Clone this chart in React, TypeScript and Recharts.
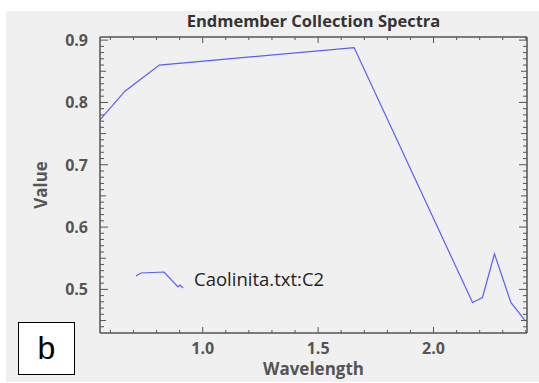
import React from "react";
import { LineChart, Line, XAxis, YAxis } from "recharts";

// Caolinita spectrum (wavelength in µm, reflectance value)
const wavelength = [0.555, 0.663, 0.812, 1.656, 2.169, 2.212, 2.264, 2.335, 2.397];
const reflectance = [0.772, 0.818, 0.86, 0.888, 0.479, 0.487, 0.557, 0.479, 0.45];

const seriesName = "Caolinita.txt:C2";
const xMajor = [1.0, 1.5, 2.0];
const yMajor = [0.5, 0.6, 0.7, 0.8, 0.9];

// little spectrum glyph used as the legend icon
const legendIcon = [[0, 4], [5, 1], [28, 0], [42, 15], [44, 13], [47, 16]];

const range = (from: number, to: number, step: number) => {
  const out: number[] = [];
  for (let v = from; v <= to + 1e-9; v += step) out.push(Math.round(v * 100) / 100);
  return out;
};
const xTicks = range(0.6, 2.4, 0.1);
const yTicks = range(0.44, 0.9, 0.01);

const data = wavelength.map((w, i) => ({ w, v: reflectance[i] }));

const AXIS = "#555";
const LINE = "#5b5bff";
const FONT = "'Open Sans', 'DejaVu Sans', sans-serif";

const isMajor = (list: number[], v: number) => list.some((m) => Math.abs(m - v) < 1e-6);

const XTick = ({ x, y, payload, top }: any) => {
  const v = payload.value;
  const major = isMajor(xMajor, v);
  const len = major ? 6 : 3;
  const dir = top ? 1 : -1;
  return (
    <g>
      <line x1={x} x2={x} y1={y} y2={y + dir * len} stroke={AXIS} strokeWidth={1} />
      {!top && major && (
        <text x={x} y={y + 21} textAnchor="middle" fontFamily={FONT} fontWeight="bold" fontSize={16} fill={AXIS}>
          {v.toFixed(1)}
        </text>
      )}
    </g>
  );
};

const YTick = ({ x, y, payload, right }: any) => {
  const v = payload.value;
  const r = Math.round(v * 100);
  const major = isMajor(yMajor, v);
  const len = major ? 8 : r % 5 === 0 ? 6 : 4;
  const dir = right ? -1 : 1;
  return (
    <g>
      <line x1={x} x2={x + dir * len} y1={y} y2={y} stroke={AXIS} strokeWidth={1} />
      {!right && major && (
        <text x={x - 12} y={y + 6} textAnchor="end" fontFamily={FONT} fontWeight="bold" fontSize={16} fill={AXIS}>
          {v.toFixed(1)}
        </text>
      )}
    </g>
  );
};

export default function App() {
  return (
    <div style={{ position: "absolute", left: 0, top: 0, width: 539, height: 383, background: "#fff" }}>
      <div style={{ position: "absolute", left: 6, top: 11, width: 533, height: 371, background: "#f0f0f0" }} />
      <div style={{ position: "absolute", left: 0, top: 0 }}>
        <LineChart width={539} height={383} data={data} margin={{ top: 0, right: 0, bottom: 0, left: 0 }}>
          <XAxis
            xAxisId="b"
            type="number"
            dataKey="w"
            domain={[0.555, 2.405]}
            allowDataOverflow
            ticks={xTicks}
            interval={0}
            height={50}
            tickSize={0}
            tickMargin={0}
            tickLine={false}
            axisLine={{ stroke: AXIS, strokeWidth: 1.5 }}
            tick={<XTick />}
          />
          <XAxis
            xAxisId="t"
            orientation="top"
            type="number"
            dataKey="w"
            domain={[0.555, 2.405]}
            allowDataOverflow
            ticks={xTicks}
            interval={0}
            height={37}
            tickSize={0}
            tickMargin={0}
            tickLine={false}
            axisLine={{ stroke: AXIS, strokeWidth: 1.5 }}
            tick={<XTick top />}
          />
          <YAxis
            yAxisId="l"
            type="number"
            domain={[0.43, 0.905]}
            allowDataOverflow
            ticks={yTicks}
            interval={0}
            width={100}
            tickSize={0}
            tickMargin={0}
            tickLine={false}
            axisLine={{ stroke: AXIS, strokeWidth: 1.5 }}
            tick={<YTick />}
          />
          <YAxis
            yAxisId="r"
            orientation="right"
            type="number"
            domain={[0.43, 0.905]}
            allowDataOverflow
            ticks={yTicks}
            interval={0}
            width={12}
            tickSize={0}
            tickMargin={0}
            tickLine={false}
            axisLine={{ stroke: AXIS, strokeWidth: 1.5 }}
            tick={<YTick right />}
          />
          <Line
            xAxisId="b"
            yAxisId="l"
            type="linear"
            dataKey="v"
            name={seriesName}
            stroke={LINE}
            strokeWidth={1.2}
            dot={false}
            activeDot={false}
            isAnimationActive={false}
          />
        </LineChart>
      </div>
      <svg style={{ position: "absolute", left: 135, top: 265 }} width={210} height={30}>
        <polyline
          points={legendIcon.map(([a, b]) => `${a + 1},${b + 7}`).join(" ")}
          fill="none"
          stroke={LINE}
          strokeWidth={1.2}
        />
        <text x={59} y={21} fontFamily={FONT} fontSize={18.5} fill="#222">
          {seriesName}
        </text>
      </svg>
      <div style={{ position: "absolute", left: 100, width: 427, top: 11, lineHeight: "20px", textAlign: "center", fontFamily: FONT, fontWeight: "bold", fontSize: 16.5, color: "#333" }}>
        Endmember Collection Spectra
      </div>
      <div style={{ position: "absolute", left: 100, width: 427, top: 362, lineHeight: "14px", textAlign: "center", fontFamily: FONT, fontWeight: "bold", fontSize: 17, color: AXIS }}>
        Wavelength
      </div>
      <div style={{ position: "absolute", left: 41, top: 185, lineHeight: "20px", transform: "translate(-50%, -50%) rotate(-90deg)", fontFamily: FONT, fontWeight: "bold", fontSize: 17, color: AXIS, whiteSpace: "nowrap" }}>
        Value
      </div>
      <div style={{ position: "absolute", left: 18, top: 322, width: 57, height: 53, background: "#fff", border: "1px solid #000", boxSizing: "border-box", textAlign: "center", fontFamily: "'Liberation Sans', Arial, sans-serif", fontSize: 32, lineHeight: "50px", color: "#000" }}>
        b
      </div>
    </div>
  );
}
